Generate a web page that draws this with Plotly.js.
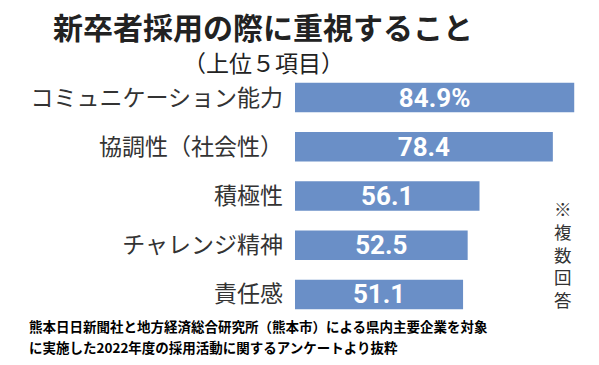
<!DOCTYPE html>
<html>
<head>
<meta charset="utf-8">
<script src="https://cdn.plot.ly/plotly-3.0.1.min.js"></script>
<style>html,body{margin:0;padding:0;background:#fff;}#chart{width:599px;height:365px;}</style>
</head>
<body>
<div id="chart"></div>
<script>
const categories = ["コミュニケーション能力", "協調性（社会性）", "積極性", "チャレンジ精神", "責任感"];
const values = [84.9, 78.4, 56.1, 52.5, 51.1];
const valueLabels = ["84.9%", "78.4", "56.1", "52.5", "51.1"];
const titleText = "新卒者採用の際に重視すること";
const subtitleText = "（上位５項目）";
const noteChars = ["※", "複", "数", "回", "答"];
const sourceLines = [
  "熊本日日新聞社と地方経済総合研究所（熊本市）による県内主要企業を対象",
  "に実施した2022年度の採用活動に関するアンケートより抜粋"
];

const jp = '"Noto Sans CJK JP", "Noto Sans", sans-serif';

const trace = {
  type: 'bar',
  orientation: 'h',
  x: values,
  y: categories,
  text: valueLabels,
  textposition: 'inside',
  insidetextanchor: 'middle',
  constraintext: 'none',
  textangle: 0,
  textfont: {family: 'Roboto, "Liberation Sans", sans-serif', size: 26, color: '#ffffff', weight: 'bold'},
  marker: {color: 'rgb(106,143,199)', line: {width: 0}},
  hoverinfo: 'none'
};

const W = 599, H = 365, L = 295, R = 8, T = 73, B = 46;
const pw = W - L - R, ph = H - T - B;
function px(x){ return (x - L) / pw; }
function py(y){ return (H - B - y) / ph; }

const annotations = [];
annotations.push({text: '<b>' + titleText + '</b>', xref: 'paper', yref: 'paper', x: px(263), y: py(26), xanchor: 'center', yanchor: 'middle', showarrow: false, borderpad: 0, font: {family: jp, size: 30, color: '#222222'}});
annotations.push({text: subtitleText, xref: 'paper', yref: 'paper', x: px(263), y: py(62), xanchor: 'center', yanchor: 'middle', showarrow: false, borderpad: 0, font: {family: jp, size: 23, color: '#222222'}});
annotations.push({text: noteChars.join('<br>'), xref: 'paper', yref: 'paper', x: px(563), y: py(254), xanchor: 'center', yanchor: 'middle', showarrow: false, borderpad: 0, font: {family: jp, size: 17.5, color: '#333333'}});
sourceLines.forEach((s, i) => {
  annotations.push({text: '<b>' + s + '</b>', xref: 'paper', yref: 'paper', x: px(28), y: py(326 + i * 20.5), xanchor: 'left', yanchor: 'middle', showarrow: false, borderpad: 0, font: {family: jp, size: 13.5, color: '#000000'}});
});

const layout = {
  width: W, height: H,
  margin: {l: L, r: R, t: T, b: B, pad: 0},
  paper_bgcolor: '#ffffff', plot_bgcolor: '#ffffff',
  showlegend: false,
  bargap: 0.4,
  xaxis: {range: [0, 90], visible: false, fixedrange: true},
  yaxis: {autorange: 'reversed', showgrid: false, zeroline: false, showline: false, ticks: '', ticklabelstandoff: 11,
          tickfont: {family: jp, size: 23, color: '#333333'}, fixedrange: true},
  annotations: annotations
};

Plotly.newPlot('chart', [trace], layout, {displayModeBar: false, staticPlot: true});
</script>
</body>
</html>
